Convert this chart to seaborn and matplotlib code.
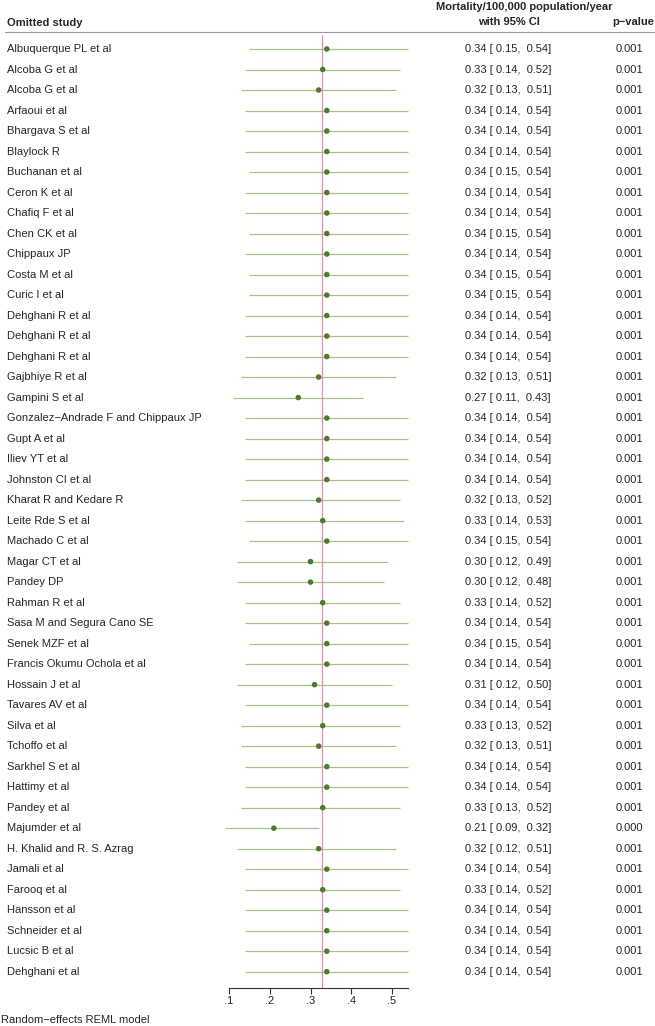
import matplotlib
matplotlib.use("Agg")
import matplotlib.pyplot as plt
import matplotlib.transforms as mtransforms
import seaborn as sns
import pandas as pd

studies = [
    "Albuquerque PL et al", "Alcoba G et al", "Alcoba G et al", "Arfaoui et al",
    "Bhargava S et al", "Blaylock R", "Buchanan et al", "Ceron K et al",
    "Chafiq F et al", "Chen CK et al", "Chippaux JP", "Costa M et al",
    "Curic I et al", "Dehghani R et al", "Dehghani R et al", "Dehghani R et al",
    "Gajbhiye R et al", "Gampini S et al", "Gonzalez\u2212Andrade F and Chippaux JP",
    "Gupt A et al", "Iliev YT et al", "Johnston CI et al", "Kharat R and Kedare R",
    "Leite Rde S et al", "Machado C et al", "Magar CT et al", "Pandey DP",
    "Rahman R et al", "Sasa M and Segura Cano SE", "Senek MZF et al",
    "Francis Okumu Ochola et al", "Hossain J et al", "Tavares AV et al",
    "Silva et al", "Tchoffo et al", "Sarkhel S et al", "Hattimy et al",
    "Pandey et al", "Majumder et al", "H. Khalid and R. S. Azrag", "Jamali et al",
    "Farooq et al", "Hansson et al", "Schneider et al", "Lucsic B et al",
    "Dehghani et al",
]
estimate = [0.34, 0.33, 0.32, 0.34, 0.34, 0.34, 0.34, 0.34, 0.34, 0.34, 0.34, 0.34,
            0.34, 0.34, 0.34, 0.34, 0.32, 0.27, 0.34, 0.34, 0.34, 0.34, 0.32, 0.33,
            0.34, 0.30, 0.30, 0.33, 0.34, 0.34, 0.34, 0.31, 0.34, 0.33, 0.32, 0.34,
            0.34, 0.33, 0.21, 0.32, 0.34, 0.33, 0.34, 0.34, 0.34, 0.34]
ci_low = [0.15, 0.14, 0.13, 0.14, 0.14, 0.14, 0.15, 0.14, 0.14, 0.15, 0.14, 0.15,
          0.15, 0.14, 0.14, 0.14, 0.13, 0.11, 0.14, 0.14, 0.14, 0.14, 0.13, 0.14,
          0.15, 0.12, 0.12, 0.14, 0.14, 0.15, 0.14, 0.12, 0.14, 0.13, 0.13, 0.14,
          0.14, 0.13, 0.09, 0.12, 0.14, 0.14, 0.14, 0.14, 0.14, 0.14]
ci_high = [0.54, 0.52, 0.51, 0.54, 0.54, 0.54, 0.54, 0.54, 0.54, 0.54, 0.54, 0.54,
           0.54, 0.54, 0.54, 0.54, 0.51, 0.43, 0.54, 0.54, 0.54, 0.54, 0.52, 0.53,
           0.54, 0.49, 0.48, 0.52, 0.54, 0.54, 0.54, 0.50, 0.54, 0.52, 0.51, 0.54,
           0.54, 0.52, 0.32, 0.51, 0.54, 0.52, 0.54, 0.54, 0.54, 0.54]
p_values = ["0.001"] * 38 + ["0.000"] + ["0.001"] * 7
overall = 0.328
x_ticks = [0.1, 0.2, 0.3, 0.4, 0.5]
x_tick_labels = [".1", ".2", ".3", ".4", ".5"]

df = pd.DataFrame({"study": studies, "est": estimate, "lo": ci_low, "hi": ci_high,
                   "p": p_values})
df["row"] = range(len(df))

sns.set_style("white")
plt.rcParams["font.family"] = ["Liberation Sans", "DejaVu Sans"]

W, H = 655, 1026
fig = plt.figure(figsize=(W / 100, H / 100), dpi=100)

def fx(px):
    return px / W

def fy(py):
    return 1 - py / H

n = len(df)
row0_px, rowN_px = 49.0, 971.7
step = (rowN_px - row0_px) / (n - 1)
ax_top_px, ax_bot_px = 35.0, 987.7
ax_left_px, ax_right_px = 200.0, 420.0
px_per_unit = 407.5
x0_px = 229.0

ax = fig.add_axes([fx(ax_left_px), fy(ax_bot_px), fx(ax_right_px - ax_left_px),
                   (ax_bot_px - ax_top_px) / H])
ax.set_xlim(0.1 - (x0_px - ax_left_px) / px_per_unit,
            0.1 + (ax_right_px - x0_px) / px_per_unit)
ax.set_ylim((n - 1) + (ax_bot_px - rowN_px) / step, -(row0_px - ax_top_px) / step)

line_col = "#a9bf8f"
dot_col = "#4e7a2c"
ax.hlines(df["row"], df["lo"], df["hi"], color=line_col, lw=0.9, zorder=2)
ax.axvline(overall, color="#f08aa8", lw=0.9, zorder=3)
sns.scatterplot(data=df, x="est", y="row", ax=ax, color=dot_col, s=16,
                edgecolor="none", zorder=4, legend=False)

for s in ["top", "right", "left"]:
    ax.spines[s].set_visible(False)
ax.spines["bottom"].set_color("#333333")
ax.spines["bottom"].set_linewidth(0.8)
ax.spines["bottom"].set_bounds(0.1, 0.54)
ax.set_yticks([])
ax.set_xticks(x_ticks)
ax.set_xticklabels(x_tick_labels)
ax.tick_params(axis="x", direction="out", length=4, width=0.8, color="#333333",
               labelsize=8, pad=2, bottom=True)
ax.set_xlabel("")
ax.set_ylabel("")
ax.patch.set_alpha(0)

trans = mtransforms.blended_transform_factory(fig.transFigure, ax.transData)
fs = 8
for _, r in df.iterrows():
    ax.text(fx(7), r["row"], r["study"], transform=trans, ha="left", va="center",
            fontsize=fs, clip_on=False)
    ax.text(fx(508), r["row"], f"{r['est']:.2f} [ {r['lo']:.2f},  {r['hi']:.2f}]",
            transform=trans, ha="center", va="center", fontsize=fs, clip_on=False)
    ax.text(fx(643), r["row"], r["p"], transform=trans, ha="right", va="center",
            fontsize=fs, clip_on=False)

fig.text(fx(7), fy(23), "Omitted study", ha="left", va="center", fontsize=fs,
         fontweight="bold")
fig.text(fx(613), fy(7), "Mortality/100,000 population/year", ha="right",
         va="center", fontsize=fs, fontweight="bold")
fig.text(fx(540), fy(22), "with 95% CI", ha="right", va="center", fontsize=fs,
         fontweight="bold")
fig.text(fx(654), fy(22), "p\u2212value", ha="right", va="center", fontsize=fs,
         fontweight="bold")
fig.add_artist(plt.Line2D([fx(5), fx(655)], [fy(32), fy(32)], color="#999999",
                          lw=0.8, transform=fig.transFigure))
fig.text(fx(1), fy(1020), "Random\u2212effects REML model", ha="left", va="center",
         fontsize=fs)

fig.savefig("out.png", dpi=100)
